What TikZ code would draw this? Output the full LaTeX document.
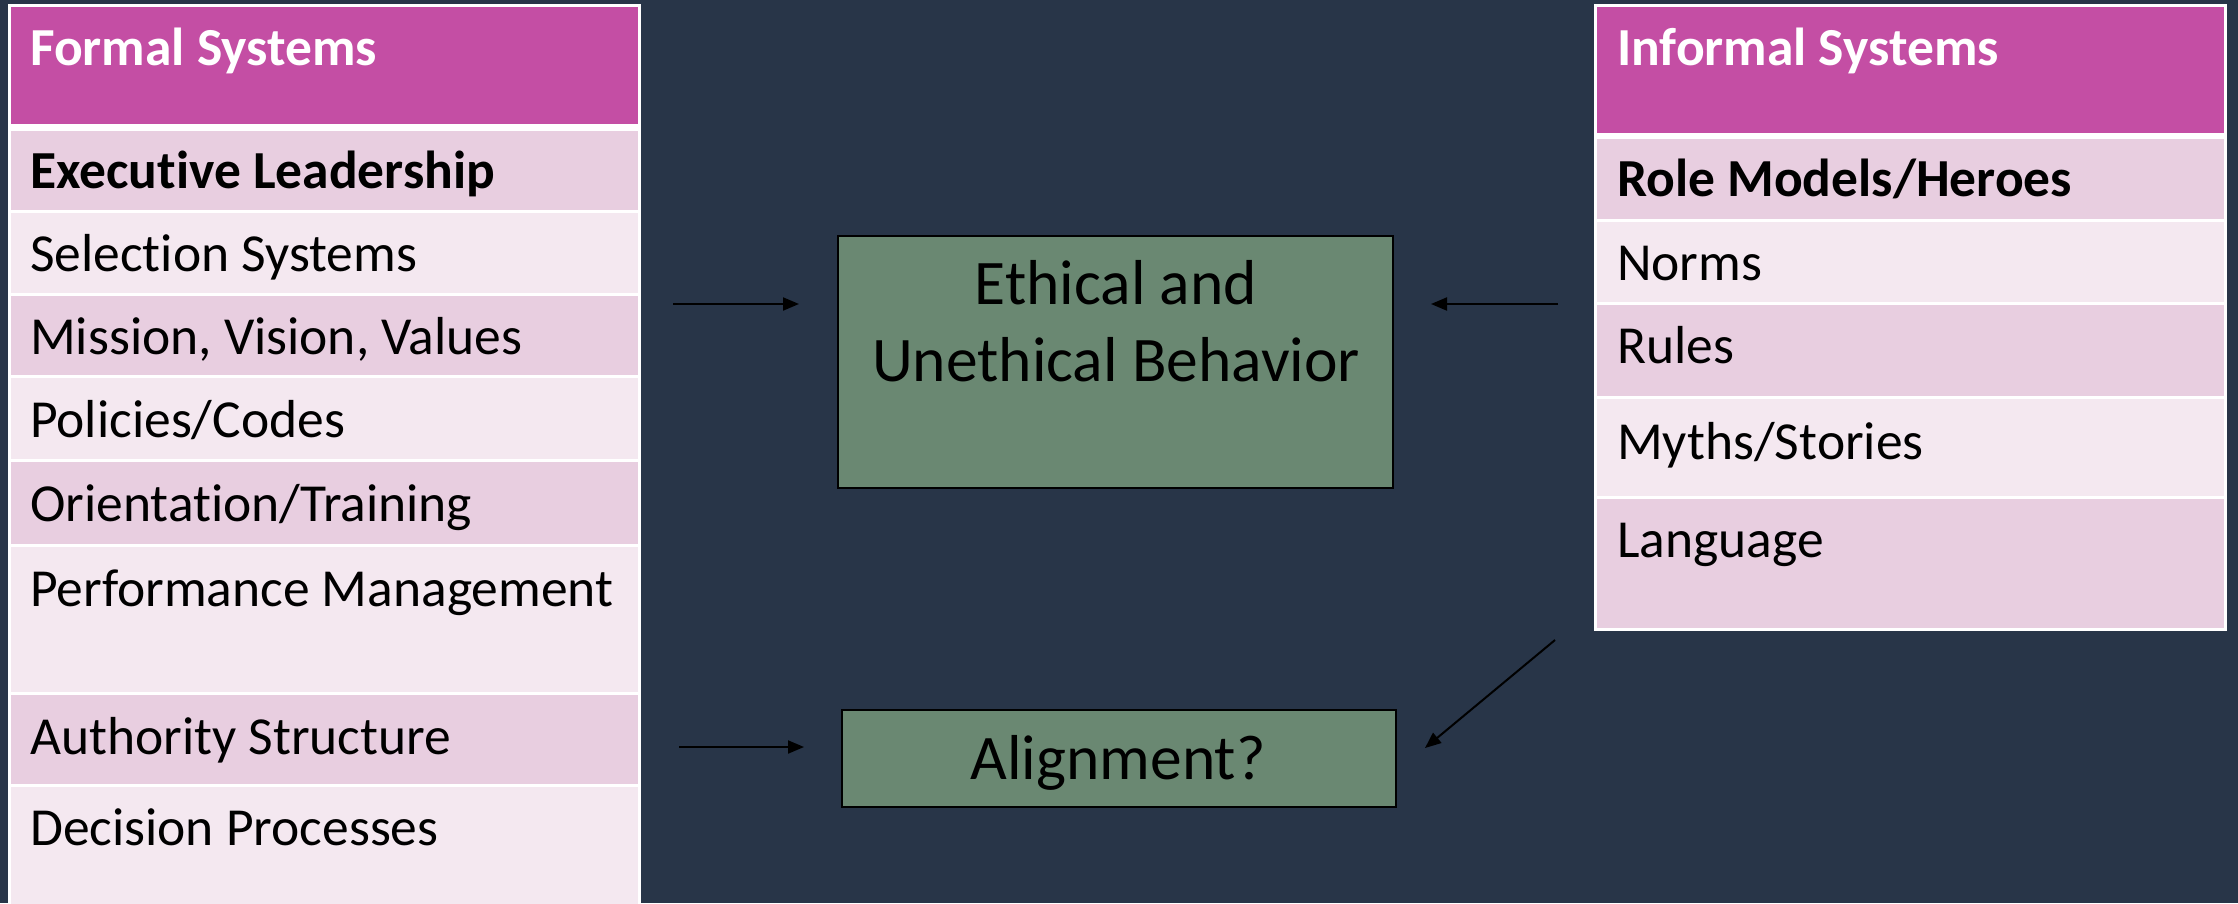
\documentclass[tikz,border=0pt]{standalone}
\usepackage{fontspec}
\setmainfont{Carlito}[Ligatures=NoCommon]
\usetikzlibrary{arrows.meta}
\definecolor{bgnavy}{HTML}{283548}
\definecolor{hdrpurple}{HTML}{C44EA4}
\definecolor{rowdark}{HTML}{E8CEE0}
\definecolor{rowlight}{HTML}{F4E8F0}
\definecolor{boxgreen}{HTML}{6A8872}
\tikzset{
 rowtxt/.style={anchor=base west, inner sep=0pt, font=\fontsize{53.5}{64}\selectfont, text=black},
 hdrtxt/.style={anchor=base west, inner sep=0pt, font=\fontsize{53.5}{64}\selectfont\bfseries, text=white},
 boldtxt/.style={anchor=base west, inner sep=0pt, font=\fontsize{53.5}{64}\selectfont\bfseries, text=black},
 greenbox/.style={draw=black, line width=2pt, fill=boxgreen, inner sep=0pt},
 boxtxt/.style={anchor=base, inner sep=0pt, font=\fontsize{63.5}{77}\selectfont, text=black},
 conn/.style={draw=black, line width=2pt, -{Triangle[length=16pt,width=13pt]}},
}
\begin{document}
\begin{tikzpicture}[x=1pt,y=-1pt]
\useasboundingbox (0,0) rectangle (2238,903);
\fill[bgnavy] (0,0) rectangle (2238,903);
% left table
\fill[white] (8,4) rectangle (641,903);
\fill[hdrpurple] (11,7) rectangle (638,124);
\fill[rowdark] (11,131) rectangle (638,210);
\fill[rowlight] (11,213) rectangle (638,293);
\fill[rowdark] (11,296) rectangle (638,375);
\fill[rowlight] (11,378) rectangle (638,459);
\fill[rowdark] (11,462) rectangle (638,544);
\fill[rowlight] (11,547) rectangle (638,692);
\fill[rowdark] (11,695) rectangle (638,784);
\fill[rowlight] (11,787) rectangle (638,906);
\node[hdrtxt] (lh) at (30,65) {Formal Systems};
\node[boldtxt] (l1) at (30,188) {Executive Leadership};
\node[rowtxt] (l2) at (30,271) {Selection Systems};
\node[rowtxt] (l3) at (30,354) {Mission, Vision, Values};
\node[rowtxt] (l4) at (30,437) {Policies/Codes};
\node[rowtxt] (l5) at (30,521) {Orientation/Training};
\node[rowtxt] (l6) at (30,606) {Performance Management};
\node[rowtxt] (l7) at (30,754) {Authority Structure};
\node[rowtxt] (l8) at (30,845) {Decision Processes};
% right table
\fill[white] (1594,4) rectangle (2227,631);
\fill[hdrpurple] (1597,7) rectangle (2224,133);
\fill[rowdark] (1597,139) rectangle (2224,219);
\fill[rowlight] (1597,222) rectangle (2224,302);
\fill[rowdark] (1597,305) rectangle (2224,396);
\fill[rowlight] (1597,399) rectangle (2224,496);
\fill[rowdark] (1597,499) rectangle (2224,628);
\node[hdrtxt] (rh) at (1617,65) {Informal Systems};
\node[boldtxt] (r1) at (1617,196) {Role Models/Heroes};
\node[rowtxt] (r2) at (1617,280) {Norms};
\node[rowtxt] (r3) at (1617,363) {Rules};
\node[rowtxt] (r4) at (1617,459) {Myths/Stories};
\node[rowtxt] (r5) at (1617,557) {Language};
% center boxes
\node[greenbox, minimum width=555pt, minimum height=252pt] (E) at (1115.5,362) {};
\node[boxtxt] (e1) at (1116,304) {Ethical and};
\node[boxtxt] (e2) at (1116,381) {Unethical Behavior};
\node[greenbox, minimum width=554pt, minimum height=97pt] (A) at (1118.5,758) {};
\node[boxtxt] (a1) at (1118,779) {Alignment?};
% arrows
\coordinate (p1s) at (673,304);
\coordinate (p1e) at (799,304);
\coordinate (p2s) at (1558,304);
\coordinate (p2e) at (1431,304);
\coordinate (p3s) at (1555,640);
\coordinate (p3e) at (1425,748);
\coordinate (p4s) at (679,747);
\coordinate (p4e) at (804,747);
\draw[conn] (p1s) -- (p1e);
\draw[conn] (p2s) -- (p2e);
\draw[conn] (p3s) -- (p3e);
\draw[conn] (p4s) -- (p4e);
\end{tikzpicture}
\end{document}
